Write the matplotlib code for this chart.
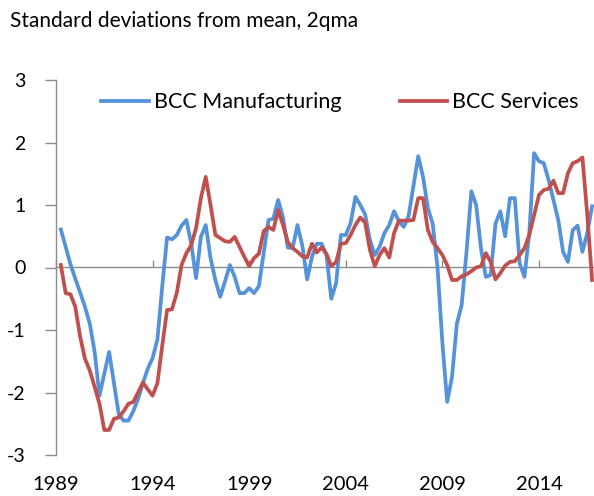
import matplotlib
matplotlib.use("Agg")
import matplotlib.pyplot as plt
import numpy as np

# ---------------- data (quarterly) ----------------
manufacturing = [
    0.61, 0.33, 0.05, -0.18, -0.40, -0.63, -0.90, -1.35, -2.05, -1.70,
    -1.35, -1.85, -2.35, -2.45, -2.45, -2.30, -2.10, -1.85, -1.62, -1.45,
    -1.15, -0.30, 0.48, 0.45, 0.52, 0.67, 0.76, 0.38, -0.17, 0.49,
    0.68, 0.15, -0.20, -0.47, -0.22, 0.04, -0.15, -0.41, -0.41, -0.33,
    -0.41, -0.30, 0.23, 0.76, 0.78, 1.08, 0.80, 0.32, 0.31, 0.68,
    0.35, -0.19, 0.17, 0.38, 0.38, 0.20, -0.50, -0.25, 0.52, 0.52,
    0.71, 1.13, 1.00, 0.85, 0.44, 0.20, 0.33, 0.55, 0.68, 0.90,
    0.74, 0.65, 0.82, 1.30, 1.78, 1.45, 0.95, 0.70, 0.00, -1.20,
    -2.15, -1.75, -0.90, -0.60, 0.25, 1.22, 1.00, 0.30, -0.15, -0.12,
    0.70, 0.90, 0.50, 1.11, 1.11, 0.07, -0.15, 0.55, 1.83, 1.70,
    1.67, 1.40, 1.08, 0.76, 0.25, 0.09, 0.60, 0.67, 0.25, 0.55,
    0.98,
]
services = [
    0.04, -0.41, -0.43, -0.63, -1.11, -1.46, -1.65, -1.91, -2.18, -2.60,
    -2.60, -2.42, -2.40, -2.30, -2.18, -2.15, -2.00, -1.84, -1.95, -2.05,
    -1.85, -1.25, -0.68, -0.67, -0.41, 0.04, 0.23, 0.36, 0.63, 1.11,
    1.45, 1.00, 0.52, 0.47, 0.42, 0.41, 0.49, 0.33, 0.17, 0.02,
    0.15, 0.22, 0.58, 0.65, 0.60, 0.92, 0.68, 0.41, 0.31, 0.25,
    0.18, 0.16, 0.38, 0.24, 0.32, 0.22, 0.02, 0.09, 0.38, 0.39,
    0.52, 0.68, 0.80, 0.72, 0.28, 0.02, 0.20, 0.31, 0.16, 0.55,
    0.75, 0.75, 0.75, 0.76, 1.11, 1.11, 0.60, 0.41, 0.31, 0.20,
    0.04, -0.20, -0.20, -0.14, -0.11, -0.06, 0.00, 0.02, 0.23, 0.09,
    -0.19, -0.09, 0.03, 0.09, 0.10, 0.20, 0.31, 0.52, 0.84, 1.16,
    1.24, 1.26, 1.39, 1.19, 1.19, 1.51, 1.67, 1.70, 1.76, 0.85,
    -0.20,
]
year_labels = ["1989", "1994", "1999", "2004", "2009", "2014"]
year_tick_index = [-1, 19, 39, 59, 79, 99]
y_ticks = [-3, -2, -1, 0, 1, 2, 3]
series_names = ["BCC Manufacturing", "BCC Services"]
title = "Standard deviations from mean, 2qma"

# ---------------- figure ----------------
plt.rcParams["font.family"] = ["Lato", "DejaVu Sans"]
fig = plt.figure(figsize=(5.94, 4.96), dpi=100)
ax = fig.add_axes([56 / 594, 41 / 496, 538 / 594, 375 / 496])

x = np.arange(len(manufacturing))
blue = "#5592DA"
red = "#C0504D"
ax.plot(x, manufacturing, color=blue, lw=2.7, label=series_names[0],
        solid_joinstyle="round", clip_on=False, zorder=3)
ax.plot(np.arange(len(services)), services, color=red, lw=2.7,
        label=series_names[1], solid_joinstyle="round", clip_on=False,
        zorder=3)

ax.set_xlim(-1, 110.4)
ax.set_ylim(-3, 3)

grey = "#8C8C8C"
for s in ["top", "right", "bottom"]:
    ax.spines[s].set_visible(False)
ax.spines["left"].set_color(grey)
ax.spines["left"].set_linewidth(1.0)

ax.set_yticks(y_ticks)
ax.set_yticklabels([str(v) for v in y_ticks])
ax.tick_params(axis="y", direction="out", length=8, width=1.0, color=grey,
               labelsize=14, pad=14, labelcolor="#000000")

ax.set_xticks(year_tick_index)
ax.set_xticklabels(year_labels)
ax.tick_params(axis="x", length=0, labelsize=14.5, pad=15,
               labelcolor="#000000")

# zero line with tick marks (secondary axis sitting at y = 0)
sec = ax.secondary_xaxis(0.5)
sec.set_xticks(year_tick_index)
sec.set_xticklabels([])
for s in sec.spines.values():
    s.set_color(grey)
    s.set_linewidth(1.0)
sec.tick_params(axis="x", direction="out", length=5, width=1.0, color=grey)
sec.set_zorder(1)

leg = ax.legend(loc="center", bbox_to_anchor=(0.528, 0.941), ncol=2,
                frameon=False, fontsize=15.5, handlelength=2.2,
                columnspacing=2.7, handletextpad=0.25)

fig.text(10 / 594, 1 - 21 / 496, title, fontsize=15, ha="left",
         va="center", color="#000000")

fig.savefig("out.png", dpi=100)
